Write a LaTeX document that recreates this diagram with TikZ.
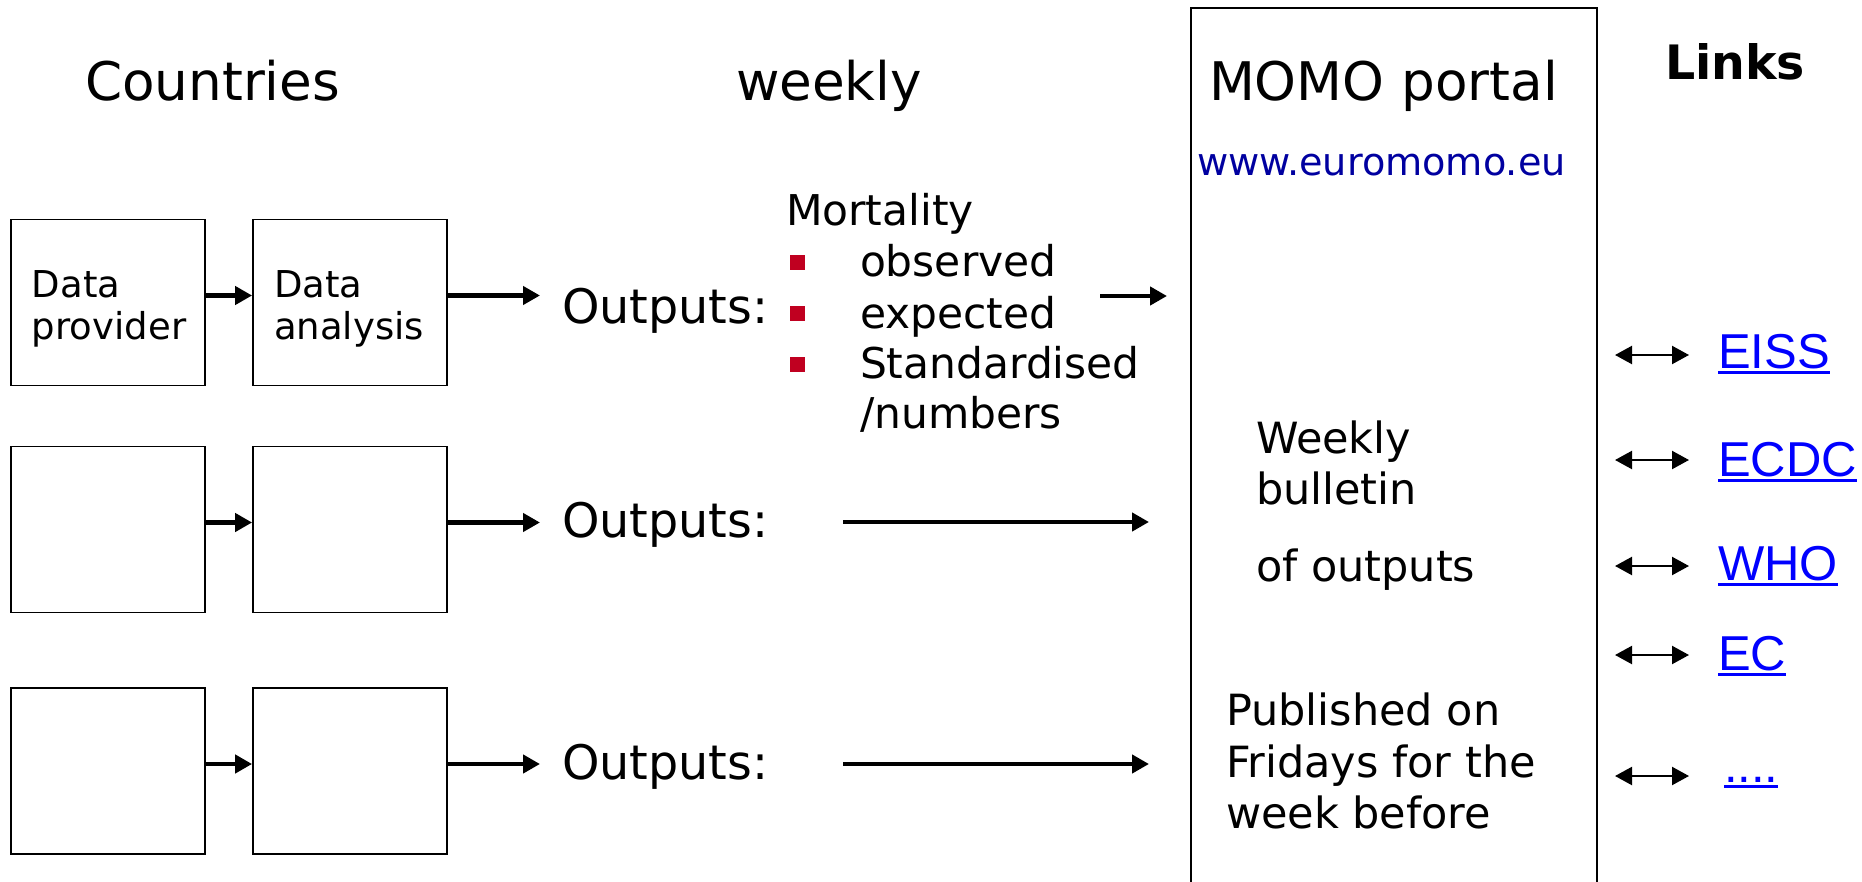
\documentclass[tikz,border=0pt]{standalone}
\usepackage{fontspec}
\setmainfont{DejaVu Sans}
\newfontfamily\arialf{Liberation Sans}
\usetikzlibrary{arrows.meta}
\definecolor{bulletred}{RGB}{192,0,32}
\definecolor{urlblue}{RGB}{0,0,160}
\definecolor{linkblue}{RGB}{0,0,255}
\begin{document}
\begin{tikzpicture}[x=0.5pt,y=-0.5pt,
  txt/.style={anchor=base west, inner sep=0pt, outer sep=0pt},
  headtxt/.style={txt, font=\fontsize{26.6}{31}\selectfont},
  outtxt/.style={txt, font=\fontsize{23.8}{28}\selectfont},
  listtxt/.style={txt, font=\fontsize{21.2}{25}\selectfont},
  boxtxt/.style={txt, font=\fontsize{18.5}{22}\selectfont},
  portaltxt/.style={txt, font=\fontsize{21.5}{25}\selectfont},
  linktxt/.style={txt, font=\arialf\fontsize{24.5}{29}\selectfont, text=linkblue},
  ulink/.style={linkblue, line width=1.5pt},
  stagebox/.style={draw, line width=0.9pt, minimum width=97pt, minimum height=83pt, inner sep=0pt},
  bul/.style={fill=bulletred, minimum size=7.5pt, inner sep=0pt},
  arr/.style={line width=2.4pt, -{Triangle[length=8.5pt,width=9pt]}},
  larr/.style={line width=1.1pt, {Triangle[length=8.5pt,width=9pt]}-{Triangle[length=8.5pt,width=9pt]}}
]
\useasboundingbox (0,0) rectangle (1862,882);
\clip (0,0) rectangle (1862,882);

% headings
\node[headtxt] (hC) at (85,101) {Countries};
\node[headtxt] (hW) at (736,101) {weekly};
\node[draw, line width=1pt, minimum width=203pt, minimum height=446pt, inner sep=0pt] (P) at (1394,454) {};
\node[headtxt] (hM) at (1209,101) {MOMO portal};
\node[txt, font=\fontsize{19.1}{23}\selectfont, text=urlblue] (url) at (1197,176) {www.euromomo.eu};
\node[txt, font=\bfseries\fontsize{23.7}{28}\selectfont] (hL) at (1665,80) {Links};

% boxes
\node[stagebox] (A1) at (108,302.5) {};
\node[stagebox] (B1) at (350,302.5) {};
\node[stagebox] (A2) at (108,529.5) {};
\node[stagebox] (B2) at (350,529.5) {};
\node[stagebox] (A3) at (108,771) {};
\node[stagebox] (B3) at (350,771) {};

\node[boxtxt] (a1l1) at (32,297) {Data};
\node[boxtxt] (a1l2) at (32,339) {provider};
\node[boxtxt] (b1l1) at (274,297) {Data};
\node[boxtxt] (b1l2) at (274,339) {analysis};

% outputs
\node[outtxt] (O1) at (562,323) {Outputs:};
\node[outtxt] (O2) at (562,537) {Outputs:};
\node[outtxt] (O3) at (562,779) {Outputs:};

% mortality list
\node[listtxt] (mort) at (786,226) {Mortality};
\node[bul] (bu1) at (797,263) {};
\node[bul] (bu2) at (797,313) {};
\node[bul] (bu3) at (797,364) {};
\node[listtxt] (li1) at (860,277) {observed};
\node[listtxt] (li2) at (860,328) {expected};
\node[listtxt] (li3) at (860,378) {Standardised};
\node[listtxt] (li4) at (860,428) {/numbers};

% portal texts
\node[portaltxt] (pw1) at (1256,453) {Weekly};
\node[portaltxt] (pw2) at (1256,504) {bulletin};
\node[portaltxt] (pw3) at (1256,581) {of outputs};
\node[portaltxt] (pp1) at (1226,725) {Published on};
\node[portaltxt] (pp2) at (1226,777) {Fridays for the};
\node[portaltxt] (pp3) at (1226,828) {week before};

% links
\node[linktxt] (L1) at (1718,368) {EISS};
\node[linktxt] (L2) at (1718,476) {ECDC};
\node[linktxt] (L3) at (1718,580) {WHO};
\node[linktxt] (L4) at (1718,670) {EC};
\node[linktxt] (L5) at (1724,782) {....};
\foreach \n in {L1,L2,L3,L4,L5}{
  \draw[ulink] ([yshift=-2.3pt]\n.base west) -- ([yshift=-2.3pt]\n.base east);
}

% connectors
\foreach \r in {1,2,3}{
  \draw[arr] ([yshift=3.5pt]A\r.east) -- ([yshift=3.5pt]B\r.west);
  \draw[arr, shorten >=11pt] ([yshift=3.5pt]B\r.east) -- ([yshift=3.5pt]B\r.east -| O\r.west);
}
\coordinate (m1) at (1100,296);
\coordinate (m2) at (843,522);
\coordinate (m3) at (843,764);
\draw[arr, shorten >=11.5pt] (m1) -- (m1 -| P.west);
\draw[arr, shorten >=20.5pt] (m2) -- (m2 -| P.west);
\draw[arr, shorten >=20.5pt] (m3) -- (m3 -| P.west);

\coordinate (k1) at (1615,355);
\coordinate (k2) at (1615,460);
\coordinate (k3) at (1615,566);
\coordinate (k4) at (1615,655);
\coordinate (k5) at (1615,776);
\draw[larr, shorten >=14.5pt] (k1) -- (k1 -| L1.west);
\draw[larr, shorten >=14.5pt] (k2) -- (k2 -| L2.west);
\draw[larr, shorten >=14.5pt] (k3) -- (k3 -| L3.west);
\draw[larr, shorten >=14.5pt] (k4) -- (k4 -| L4.west);
\draw[larr, shorten >=17.5pt] (k5) -- (k5 -| L5.west);
\end{tikzpicture}
\end{document}
